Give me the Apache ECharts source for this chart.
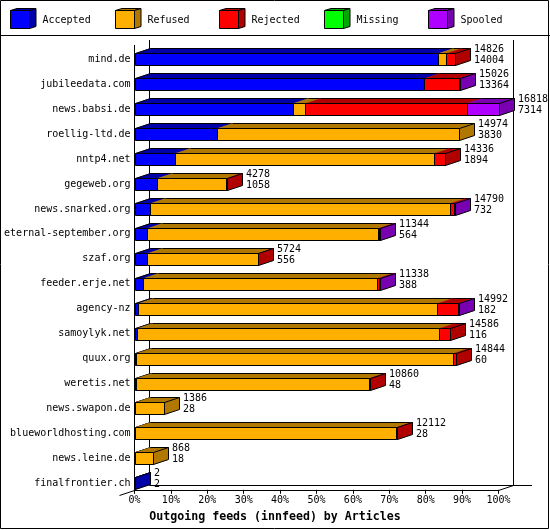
<!DOCTYPE html>
<html>
<head>
<meta charset="utf-8">
<script src="https://cdn.jsdelivr.net/npm/echarts@6/dist/echarts.min.js"></script>
<style>
html,body{margin:0;padding:0;background:#fff;}
#c{width:550px;height:530px;}
</style>
</head>
<body>
<div id="c"></div>
<script>
// ---- data ----
const categories = ['mind.de','jubileedata.com','news.babsi.de','roellig-ltd.de','nntp4.net','gegeweb.org','news.snarked.org','eternal-september.org','szaf.org','feeder.erje.net','agency-nz','samoylyk.net','quux.org','weretis.net','news.swapon.de','blueworldhosting.com','news.leine.de','finalfrontier.ch'];
const totals   = [14826,15026,16818,14974,14336,4278,14790,11344,5724,11338,14992,14586,14844,10860,1386,12112,868,2];
const accepted = [14004,13364,7314,3830,1894,1058,732,564,556,388,182,116,60,48,28,28,18,2];
const refused  = [380,0,550,11144,11940,3190,13860,10690,5130,10830,13790,13930,14660,10780,1358,12060,850,0];
const rejected = [442,1620,7510,0,502,30,150,60,38,80,990,540,124,32,0,24,0,0];
const missing  = [0,0,0,0,0,0,0,0,0,0,0,0,0,0,0,0,0,0];
const spooled  = [0,42,1444,0,0,0,48,30,0,40,30,0,0,0,0,0,0,0];
const statusNames = ['Accepted','Refused','Rejected','Missing','Spooled'];
const tickLabels = ['0%','10%','20%','30%','40%','50%','60%','70%','80%','90%','100%'];
const xTitle = 'Outgoing feeds (innfeed) by Articles';

// ---- styles ----
const frontColors = ['#0000FF','#FFAF00','#FF0000','#00FF00','#AF00FF'];
const darkColors  = ['#0000A8','#B07800','#B00000','#00A800','#7800B0'];
const FONT = '"DejaVu Sans Mono", monospace';
const D = 15, DY = 5, BH = 12;

const seriesValues = [accepted, refused, rejected, missing, spooled];
const maxTotal = Math.max.apply(null, totals);
const pct = v => v * 100 / maxTotal;

// build stacked segment data
const segData = statusNames.map(() => []);
categories.forEach((c, r) => {
  const vals = seriesValues.map(a => a[r]);
  let firstIdx = vals.findIndex(v => v > 0);
  let lastIdx = -1;
  vals.forEach((v, i) => { if (v > 0) lastIdx = i; });
  let cum = 0;
  vals.forEach((v, i) => {
    if (v > 0) {
      segData[i].push([pct(cum), pct(cum + v), r, i === firstIdx ? 1 : 0, i === lastIdx ? 1 : 0]);
    }
    cum += v;
  });
});
const labelData = categories.map((c, r) => [pct(totals[r]), r, totals[r], accepted[r]]);

const px = v => Math.round(v) + 0.5;

function makeRender(si) {
  return function (params, api) {
    const p0 = api.coord([api.value(0), api.value(2)]);
    const p1 = api.coord([api.value(1), api.value(2)]);
    const first = api.value(3), last = api.value(4);
    const x0 = px(p0[0]), x1 = Math.max(px(p1[0]), x0);
    const yT = px(p0[1] - BH / 2), yB = yT + BH;
    const children = [];
    children.push({ type: 'polygon', shape: { points: [[x0, yT], [x1, yT], [x1 + D, yT - DY], [x0 + D, yT - DY]] },
      style: { fill: darkColors[si], stroke: darkColors[si], lineWidth: 0.5 } });
    children.push({ type: 'line', shape: { x1: x0 + D, y1: yT - DY, x2: x1 + D, y2: yT - DY }, style: { stroke: '#000', lineWidth: 1 } });
    if (first) {
      children.push({ type: 'line', shape: { x1: x0, y1: yT, x2: x0 + D, y2: yT - DY }, style: { stroke: '#000', lineWidth: 1 } });
    }
    children.push({ type: 'rect', shape: { x: x0, y: yT, width: x1 - x0, height: BH },
      style: { fill: frontColors[si], stroke: '#000', lineWidth: 1 } });
    if (last) {
      children.push({ type: 'polygon', shape: { points: [[x1, yT], [x1 + D, yT - DY], [x1 + D, yB - DY], [x1, yB]] },
        style: { fill: darkColors[si], stroke: '#000', lineWidth: 1 } });
    }
    return { type: 'group', children: children };
  };
}

const series = statusNames.map((name, si) => ({
  type: 'custom',
  name: name,
  clip: false,
  z: 3,
  dimensions: ['start', 'end', 'row', 'first', 'last'],
  encode: { x: [0, 1], y: 2 },
  renderItem: makeRender(si),
  data: segData[si]
}));
series.push({
  type: 'custom',
  name: 'labels',
  clip: false,
  z: 4,
  encode: { x: 0, y: 1 },
  renderItem: function (params, api) {
    const p = api.coord([api.value(0), api.value(1)]);
    return {
      type: 'text',
      x: Math.round(p[0]) + D + 4,
      y: Math.round(p[1]) - 15,
      style: { text: api.value(2) + '\n' + api.value(3), fill: '#000', fontFamily: FONT, fontSize: 10,
        lineHeight: 11, align: 'left', verticalAlign: 'top' }
    };
  },
  data: labelData
});

// legend (3D boxes) as graphic elements
const legendEls = statusNames.map((name, i) => {
  const gx = Math.round(10 + i * 104.6) + 0.5;
  return {
    type: 'group', x: gx, y: 10.5, z: 10,
    children: [
      { type: 'polygon', shape: { points: [[0, 0], [19, 0], [25.5, -2], [6.5, -2]] }, style: { fill: darkColors[i], stroke: '#000', lineWidth: 1 } },
      { type: 'polygon', shape: { points: [[19, 0], [25.5, -2], [25.5, 16], [19, 18]] }, style: { fill: darkColors[i], stroke: '#000', lineWidth: 1 } },
      { type: 'rect', shape: { x: 0, y: 0, width: 19, height: 18 }, style: { fill: frontColors[i], stroke: '#000', lineWidth: 1 } },
      { type: 'text', x: 32, y: 9.5, style: { text: name, fill: '#000', fontFamily: FONT, fontSize: 10, align: 'left', verticalAlign: 'middle' } }
    ]
  };
});

const L = (x1, y1, x2, y2) => ({ type: 'line', z: 1, shape: { x1: x1, y1: y1, x2: x2, y2: y2 }, style: { stroke: '#000', lineWidth: 1 } });
const frameEls = [
  { type: 'rect', z: 1, shape: { x: 0.5, y: 0.5, width: 548, height: 528 }, style: { fill: 'none', stroke: '#000', lineWidth: 1 } },
  L(0, 35.5, 550, 35.5),
  L(134.5, 45, 134.5, 490.5),
  L(149.5, 40, 149.5, 485.5),
  L(513.5, 40, 513.5, 485.5),
  L(149.5, 485.5, 532, 485.5),
  L(119.5, 495.5, 134.5, 490.5),
  L(498.5, 490.5, 513.5, 485.5)
];

const chart = echarts.init(document.getElementById('c'), null, { renderer: 'canvas' });
chart.setOption({
  backgroundColor: '#fff',
  animation: false,
  title: {
    text: xTitle, left: 'center', top: 511, padding: 0,
    textStyle: { fontFamily: FONT, fontWeight: 'bold', fontSize: 11.6, color: '#000' }
  },
  grid: { left: 134.5, right: 51.5, top: 46.8, height: 449, containLabel: false },
  xAxis: {
    type: 'value', min: 0, max: 100, interval: 10, offset: -6,
    axisLine: { show: true, lineStyle: { color: '#000', width: 1 } },
    axisTick: { show: true, length: 4, lineStyle: { color: '#000' } },
    splitLine: { show: false },
    axisLabel: { margin: 6, color: '#000', fontFamily: FONT, fontSize: 10,
      formatter: (v, idx) => tickLabels[Math.round(v / 10)] }
  },
  yAxis: {
    type: 'category', data: categories, inverse: true,
    axisLine: { show: false }, axisTick: { show: false }, splitLine: { show: false },
    axisLabel: { margin: 4, color: '#000', fontFamily: FONT, fontSize: 10 }
  },
  graphic: { elements: frameEls.concat(legendEls) },
  series: series
});
</script>
</body>
</html>
